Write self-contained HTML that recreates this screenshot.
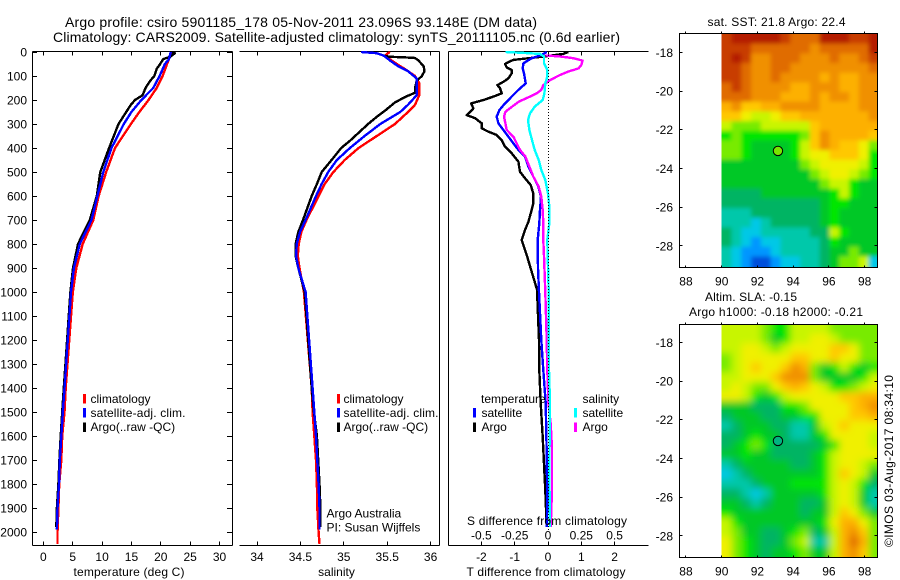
<!DOCTYPE html>
<html>
<head>
<meta charset="utf-8">
<title>Argo profile</title>
<style>
html,body{margin:0;padding:0;background:#fff;width:900px;height:580px;overflow:hidden}
svg{display:block}
text{font-family:"Liberation Sans",sans-serif;font-size:12px;fill:#000}
.mark{fill:none;stroke-linejoin:round;shape-rendering:crispEdges}
.ax{stroke:#000;stroke-width:1;fill:none;shape-rendering:crispEdges}
</style>
</head>
<body>
<svg id="fig" xmlns="http://www.w3.org/2000/svg" width="900" height="580" viewBox="0 0 900 580">
  <defs>
    <clipPath id="clip-sst"><rect x="721.5" y="34" width="156" height="233"/></clipPath>
    <clipPath id="clip-sla"><rect x="721.5" y="325" width="156" height="232"/></clipPath>
    <filter id="soft-sst" filterUnits="userSpaceOnUse" x="690" y="0" width="210" height="300"><feGaussianBlur stdDeviation="2.2"/></filter>
    <filter id="soft-sla" filterUnits="userSpaceOnUse" x="690" y="300" width="210" height="280"><feGaussianBlur stdDeviation="3.6"/></filter>
  </defs>

  <text x="65" y="27" style="font-size:14px" textLength="472" lengthAdjust="spacing">Argo profile: csiro 5901185_178 05-Nov-2011 23.096S 93.148E (DM data)</text>
  <text x="53" y="42" style="font-size:14px" textLength="567" lengthAdjust="spacing">Climatology: CARS2009. Satellite-adjusted climatology: synTS_20111105.nc (0.6d earlier)</text>

  <g id="layer-axes"></g>
  <g id="layer-maps"></g>
  <g id="layer-marks"></g>
  <g id="layer-labels"></g>

  <text x="129" y="576" text-anchor="middle" textLength="111" lengthAdjust="spacing">temperature (deg C)</text>
  <text x="336.5" y="576" text-anchor="middle">salinity</text>
  <text x="546" y="576" text-anchor="middle" textLength="159" lengthAdjust="spacing">T difference from climatology</text>
  <text x="547" y="525" text-anchor="middle" textLength="160" lengthAdjust="spacing">S difference from climatology</text>

  <g>
    <rect x="83" y="394" width="3" height="9.5" fill="#ff0000"/>
    <rect x="83" y="408" width="3" height="9.5" fill="#0000ff"/>
    <rect x="83" y="422.5" width="3" height="9.5" fill="#000000"/>
    <text x="90.5" y="403">climatology</text>
    <text x="90.5" y="417" textLength="95" lengthAdjust="spacing">satellite-adj. clim.</text>
    <text x="90.5" y="431">Argo(..raw -QC)</text>
  </g>
  <g>
    <rect x="337" y="394" width="3" height="9.5" fill="#ff0000"/>
    <rect x="337" y="408" width="3" height="9.5" fill="#0000ff"/>
    <rect x="337" y="422.5" width="3" height="9.5" fill="#000000"/>
    <text x="343.5" y="403">climatology</text>
    <text x="343.5" y="417" textLength="95" lengthAdjust="spacing">satellite-adj. clim.</text>
    <text x="343.5" y="431">Argo(..raw -QC)</text>
  </g>
  <text x="326.5" y="517.5">Argo Australia</text>
  <text x="326.5" y="531.5">PI: Susan Wijffels</text>

  <g>
    <rect x="473" y="408" width="3" height="9.5" fill="#0000ff"/>
    <rect x="473" y="422.5" width="3" height="9.5" fill="#000000"/>
    <rect x="574" y="408" width="3" height="9.5" fill="#00ffff"/>
    <rect x="574" y="422.5" width="3" height="9.5" fill="#ff00ff"/>
    <text x="481" y="403">temperature</text>
    <text x="481.5" y="417">satellite</text>
    <text x="481.5" y="431">Argo</text>
    <text x="582.5" y="403">salinity</text>
    <text x="582.5" y="417">satellite</text>
    <text x="582.5" y="431">Argo</text>
  </g>

  <text x="776.5" y="26" text-anchor="middle" textLength="138" lengthAdjust="spacing">sat. SST: 21.8 Argo: 22.4</text>
  <text x="751" y="301" text-anchor="middle" textLength="92" lengthAdjust="spacing">Altim. SLA: -0.15</text>
  <text x="776" y="316" text-anchor="middle" textLength="174" lengthAdjust="spacing">Argo h1000: -0.18 h2000: -0.21</text>
  <text transform="translate(893,547) rotate(-90)" textLength="172" lengthAdjust="spacing">©IMOS 03-Aug-2017 08:34:10</text>
</svg>

<script>
// ---- axis tick values ----
const depthTicks = [0,100,200,300,400,500,600,700,800,900,1000,1100,1200,1300,1400,1500,1600,1700,1800,1900,2000];
const tempTicks = [0,5,10,15,20,25,30];
const salTicks = [34,34.5,35,35.5,36];
const salTickLabels = ['34','34.5','35','35.5','36'];
const tDiffTicks = [-2,-1,0,1,2];
const sDiffTicks = [-0.5,-0.25,0,0.25,0.5];
const sDiffTickLabels = ['-0.5','-0.25','0','0.25','0.5'];
const lonTicks = [88,90,92,94,96,98];
const latTicks = [-18,-20,-22,-24,-26,-28];

// ---- temperature profiles ----
const tempClimP = [0,35,100,150,200,255,300,400,500,600,700,800,900,1000,1400,1500,1600,1700,1800,1900,2000,2050];
const tempClimV = [21.9,21.3,20.3,19.3,17.9,16.2,14.9,12.2,10.7,9.4,8.5,6.7,5.6,5.0,3.8,3.6,3.2,3.05,2.7,2.55,2.4,2.4];
const tempSatP = [0,30,50,100,150,200,250,300,400,500,600,700,800,900,1000,1400,1500,1600,1700,1800,1900,1990];
const tempSatV = [21.7,21.4,20.7,19.8,18.7,16.7,15,13.7,11.6,10.2,9.2,8.2,6.2,5.2,4.7,3.6,3.3,3.05,2.8,2.65,2.4,2.3];
const tempArgoP = [0,5,20,30,50,70,100,120,150,180,200,220,250,300,400,500,600,700,800,900,1000,1400,1500,1600,1700,1800,1900,1980];
const tempArgoV = [21.7,22.4,21.6,20.4,19.9,19.3,18.9,18.2,17.4,16.9,15.6,14.9,14.1,12.8,11.2,9.7,9.1,7.9,5.9,5.05,4.6,3.48,3.2,2.95,2.72,2.55,2.3,2.2];

// ---- salinity profiles ----
const salClimP = [0,10,25,50,70,100,130,180,220,250,300,350,400,450,500,550,600,700,750,800,850,900,1000,1400,1500,1600,1700,1800,1900,2000,2050];
const salClimV = [35.53,35.49,35.51,35.61,35.7,35.82,35.87,35.87,35.82,35.74,35.59,35.38,35.17,35.01,34.88,34.78,34.71,34.57,34.51,34.48,34.47,34.49,34.54,34.63,34.64,34.66,34.68,34.69,34.695,34.71,34.72];
const salSatP = [0,5,15,40,60,80,110,140,180,220,250,300,350,400,450,500,550,600,700,750,800,850,900,1000,1400,1500,1600,1700,1800,1900,1990];
const salSatV = [35.2,35.38,35.46,35.55,35.63,35.74,35.84,35.84,35.84,35.74,35.65,35.42,35.24,35.07,34.92,34.82,34.745,34.68,34.56,34.495,34.457,34.45,34.476,34.56,34.64,34.66,34.68,34.695,34.71,34.72,34.72];
const salArgoP = [15,20,22,25,35,60,80,100,120,150,170,185,210,240,270,300,330,370,400,450,500,550,600,700,750,800,850,900,1000,1400,1500,1600,1700,1800,1900,1980];
const salArgoV = [35.46,35.53,35.69,35.82,35.86,35.92,35.93,35.9,35.84,35.82,35.82,35.72,35.59,35.49,35.38,35.28,35.19,35.07,34.97,34.86,34.745,34.69,34.63,34.53,34.476,34.445,34.445,34.476,34.55,34.63,34.655,34.69,34.705,34.72,34.73,34.73];

// ---- difference profiles ----
const dTArgoP = [0,8,19,33,42,50,64,75,89,110,124,138,151,172,186,200,214,235,249,263,276,297,318,332,346,367,394,422,457,499,526,554,589,631,658,707,742,783,850,990,1200,1325,1463,1604,1742,1825,1980];
const dTArgoV = [0.61,0.46,-0.14,-1.04,-1.19,-1.29,-1.24,-1.09,-1.09,-1.19,-1.34,-1.52,-1.44,-1.39,-1.64,-1.94,-2.31,-2.24,-2.34,-2.44,-2.19,-1.99,-1.99,-1.79,-1.54,-1.39,-1.29,-1.09,-0.89,-0.84,-0.69,-0.52,-0.44,-0.44,-0.49,-0.59,-0.69,-0.79,-0.63,-0.33,-0.27,-0.26,-0.22,-0.16,-0.11,-0.08,-0.04];
const dTSatP = [0,12,26,47,68,89,131,158,186,214,242,269,297,325,353,381,408,436,478,519,561,603,658,714,783,900,1000,1200,1325,1463,1673,1880,1980];
const dTSatV = [-0.04,-0.19,-0.49,-0.74,-0.76,-0.72,-0.67,-0.89,-1.09,-1.29,-1.46,-1.54,-1.49,-1.34,-1.19,-1.04,-0.89,-0.69,-0.59,-0.44,-0.29,-0.21,-0.24,-0.26,-0.31,-0.3,-0.27,-0.2,-0.14,-0.07,-0.04,-0.02,-0.04];
const dSArgoP = [14,19,26,36,54,68,82,96,117,138,158,172,186,207,228,249,269,297,325,353,381,408,436,478,519,561,603,658,714,783,850,1000,1200,1325,1463,1550,1650,1825,1980];
const dSArgoV = [-0.02,0.1,0.19,0.26,0.25,0.23,0.15,0.09,0.015,-0.035,-0.05,-0.085,-0.135,-0.22,-0.27,-0.32,-0.33,-0.32,-0.31,-0.26,-0.235,-0.21,-0.17,-0.14,-0.11,-0.07,-0.05,-0.04,-0.035,-0.035,-0.03,-0.02,-0.01,-0.005,0.003,0.02,0.03,0.03,0.02];
const dSSatP = [0,3,8,19,47,75,103,131,172,200,228,256,283,325,367,408,450,492,533,589,644,714,783,1000,1325,1463,1742,1980];
const dSSatV = [-0.32,-0.21,-0.06,-0.03,-0.03,-0.005,-0.005,-0.02,-0.027,-0.04,-0.1,-0.135,-0.15,-0.14,-0.12,-0.1,-0.07,-0.05,-0.02,0,0.01,0.01,-0.005,0.005,0.0075,0.015,0.01,0.015];

// ---- maps: colour level per cell, north to south, 90E eastward ----
const mapCellLon = 0.548;
const mapCellLat = 0.5;
const mapNorthLat = -17.05;
const mapWestLon = 90;
const sstLevels = [
[14,15,15,15,15,15,14,13,13,13,15,15,15,14,14,15],
[14,14,14,13,13,13,13,13,13,12,13,13,13,13,13,15],
[14,15,14,12,12,13,13,13,12,12,12,13,12,12,13,14],
[14,14,13,12,12,13,13,12,12,12,12,12,12,12,12,13],
[14,14,13,12,12,13,12,12,12,12,11,12,11,11,12,12],
[13,14,13,12,12,12,12,11,11,12,12,12,11,11,12,12],
[13,13,13,12,12,12,11,11,11,12,11,12,12,11,12,12],
[11,12,10,10,11,11,12,12,12,12,11,11,11,11,12,12],
[10,10,9,8,8,9,10,10,11,11,11,11,11,11,11,12],
[8,7,7,7,8,8,8,8,8,10,11,11,11,11,11,11],
[6,7,6,6,6,6,6,6,7,10,12,11,11,11,11,10],
[7,7,6,5,5,5,5,6,8,10,12,11,10,10,9,7],
[7,7,6,5,5,5,5,6,8,9,9,10,10,10,9,6],
[5,5,5,5,5,5,5,5,7,8,9,9,9,9,8,6],
[5,5,5,5,5,5,5,5,5,7,8,9,9,8,7,6],
[5,5,5,5,5,5,5,5,5,5,7,8,8,6,5,5],
[4,4,4,4,5,5,5,5,5,5,5,6,8,6,5,5],
[4,4,4,4,4,4,4,4,4,4,5,6,6,5,5,5],
[3,3,3,4,4,4,4,4,4,4,5,6,5,5,5,5],
[3,3,3,2,3,4,4,4,4,4,5,6,5,5,5,5],
[4,3,2,2,3,3,3,3,3,4,4,8,6,5,5,5],
[4,3,2,1,2,2,3,3,3,3,4,6,5,5,5,5],
[3,2,1,1,1,2,3,3,3,3,4,5,5,7,5,5],
[3,2,1,0,0,1,2,2,3,3,4,5,7,7,8,2]
];
const slaLevels = [
[8,8,8,8,7,6,6,8,8,8,8,7,7,7,7,7],
[8,8,8,8,7,5,6,8,8,9,9,8,7,7,7,7],
[8,8,9,9,8,7,8,9,9,9,9,10,10,9,7,7],
[7,8,9,9,9,9,9,10,10,9,9,10,9,9,7,7],
[7,8,9,10,9,9,10,12,11,7,5,6,8,6,5,6],
[8,8,9,9,9,10,12,12,12,7,5,5,5,5,6,8],
[8,9,8,7,7,9,10,11,10,9,8,6,6,7,8,9],
[9,9,8,6,5,6,8,9,9,9,9,9,10,10,11,11],
[5,5,5,4,4,4,6,6,7,9,9,9,9,10,11,12],
[4,5,5,5,4,4,5,5,6,6,9,9,9,10,10,11],
[3,4,5,5,5,4,4,3,3,5,8,9,10,9,9,9],
[4,4,5,6,5,5,4,3,3,5,6,9,9,9,9,8],
[4,5,6,7,6,4,4,4,4,4,5,6,9,9,9,8],
[5,5,6,5,5,4,4,4,4,5,6,8,9,9,9,9],
[3,4,5,5,5,5,5,4,4,5,6,8,9,9,8,7],
[2,3,4,5,5,5,5,5,5,5,6,8,10,9,8,5],
[3,3,3,4,5,5,5,6,6,6,6,8,9,8,6,4],
[4,4,3,2,3,5,5,5,5,5,6,8,9,8,5,3],
[5,5,4,3,4,5,5,5,4,4,5,8,9,8,5,3],
[6,5,5,5,5,5,5,5,4,5,5,8,10,9,7,5],
[8,6,5,5,5,5,5,5,5,5,6,9,11,11,9,7],
[8,7,5,5,4,4,5,6,7,4,5,8,11,12,10,7],
[9,7,6,5,4,4,5,7,8,3,3,8,11,13,11,7],
[9,7,6,5,4,5,5,6,7,5,5,8,11,12,10,7]
];
const profileLon = 93.148;
const profileLat = -23.096;

const levelColors = ['#0050dc','#0096ff','#00c8e6','#00c8aa','#00b464','#00c828','#00e600','#78eb00','#c8f500','#f0f000','#ffc800','#fdb000','#f09000','#e06c00','#c83c00','#b41e00'];

const SVGNS = 'http://www.w3.org/2000/svg';
const axesLayer = document.getElementById('layer-axes');
const mapsLayer = document.getElementById('layer-maps');
const marksLayer = document.getElementById('layer-marks');
const labelsLayer = document.getElementById('layer-labels');

// ---- axis functions ----
function depthY(p){ return 52 + p * 0.24; }
function tempX(t){ return 43.4 + t * 5.87; }
function salX(s){ return 257 + (s - 34) * 86.8; }
function tDiffX(d){ return 548 + d * 33.3; }
function sDiffX(d){ return 548 + d * 133.2; }
function lonX(lon){ return 721.7 + (lon - 90) * 17.87; }
function sstLatY(lat){ return 52.3 + (-18 - lat) * 19.35; }
function slaLatY(lat){ return 342.3 + (-18 - lat) * 19.35; }

function axisLine(name, x1, y1, x2, y2){
  const el = document.createElementNS(SVGNS, 'line');
  
  
  el.setAttribute('class', 'ax');
  el.setAttribute('x1', x1); el.setAttribute('y1', y1);
  el.setAttribute('x2', x2); el.setAttribute('y2', y2);
  axesLayer.appendChild(el);
}
function label(name, str, x, y, anchor){
  const el = document.createElementNS(SVGNS, 'text');
  
  
  el.setAttribute('x', x); el.setAttribute('y', y);
  el.setAttribute('text-anchor', anchor);
  el.textContent = str;
  labelsLayer.appendChild(el);
}
function snap(v){ return Math.round(v - 0.5) + 0.5; }

function profileLine(name, color, xFn, depths, values){
  const el = document.createElementNS(SVGNS, 'polyline');
  
  
  el.setAttribute('class', 'mark');
  el.setAttribute('stroke', color);
  el.setAttribute('stroke-width', '2.4');
  el.setAttribute('points', depths.map(function(p, i){ return xFn(values[i]).toFixed(1) + ',' + depthY(p).toFixed(1); }).join(' '));
  marksLayer.appendChild(el);
}

// ---- profile panel frames ----
const top0 = 51.5, bot0 = 545.5;
// temperature panel
axisLine('temperature-panel-top', 32.5, top0, 232.5, top0);
axisLine('temperature-panel-bottom', 32.5, bot0, 232.5, bot0);
axisLine('temperature-panel-left', 32.5, top0, 32.5, bot0);
axisLine('temperature-panel-right', 232.5, top0, 232.5, bot0);
// salinity panel (no left spine in the reference)
axisLine('salinity-panel-top', 239.5, top0, 439.5, top0);
axisLine('salinity-panel-bottom', 239.5, bot0, 439.5, bot0);
axisLine('salinity-panel-right', 439.5, top0, 439.5, bot0);
// difference panel
axisLine('difference-panel-top', 448.5, top0, 648.5, top0);
axisLine('difference-panel-bottom', 448.5, bot0, 648.5, bot0);
axisLine('difference-panel-left', 448.5, top0, 448.5, bot0);

depthTicks.forEach(function(p){
  const y = snap(depthY(p));
  axisLine('depth-tick-left', 32.5, y, 37, y);
  axisLine('depth-tick-right', 227, y, 232.5, y);
  label('depth-tick-label', String(p), 27, depthY(p) + 4.5, 'end');
});
tempTicks.forEach(function(t){
  const x = snap(tempX(t));
  axisLine('temperature-tick-top', x, top0, x, top0 + 4);
  axisLine('temperature-tick-bottom', x, bot0, x, bot0 - 4);
  label('temperature-tick-label', String(t), tempX(t), 561, 'middle');
});
salTicks.forEach(function(s, i){
  const x = snap(salX(s));
  axisLine('salinity-tick-top', x, top0, x, top0 + 4);
  axisLine('salinity-tick-bottom', x, bot0, x, bot0 - 4);
  label('salinity-tick-label', salTickLabels[i], salX(s), 561, 'middle');
});
tDiffTicks.forEach(function(d){
  const x = snap(tDiffX(d));
  axisLine('t-difference-tick-top', x, top0, x, top0 + 4);
  axisLine('t-difference-tick-bottom', x, bot0, x, bot0 - 4);
  label('t-difference-tick-label', String(d), tDiffX(d), 561, 'middle');
});
sDiffTicks.forEach(function(d, i){
  label('s-difference-tick-label', sDiffTickLabels[i], sDiffX(d), 539.5, 'middle');
});

// ---- profile series ----
profileLine('temperature-climatology-line', '#ff0000', tempX, tempClimP, tempClimV);
profileLine('temperature-argo-line', '#000000', tempX, tempArgoP, tempArgoV);
profileLine('temperature-satellite-line', '#0000ff', tempX, tempSatP, tempSatV);

profileLine('salinity-climatology-line', '#ff0000', salX, salClimP, salClimV);
profileLine('salinity-argo-line', '#000000', salX, salArgoP, salArgoV);
profileLine('salinity-satellite-line', '#0000ff', salX, salSatP, salSatV);

profileLine('t-difference-argo-line', '#000000', tDiffX, dTArgoP, dTArgoV);
profileLine('t-difference-satellite-line', '#0000ff', tDiffX, dTSatP, dTSatV);
profileLine('s-difference-argo-line', '#ff00ff', sDiffX, dSArgoP, dSArgoV);
profileLine('s-difference-satellite-line', '#00ffff', sDiffX, dSSatP, dSSatV);

const zero = document.createElementNS(SVGNS, 'line');


zero.setAttribute('x1', '548.5'); zero.setAttribute('x2', '548.5');
zero.setAttribute('y1', depthY(0)); zero.setAttribute('y2', depthY(2000));
zero.setAttribute('stroke', '#000'); zero.setAttribute('stroke-width', '1');
zero.setAttribute('stroke-dasharray', '1 2');
zero.setAttribute('shape-rendering', 'crispEdges');
marksLayer.appendChild(zero);

// ---- maps ----
function drawMap(prefix, levels, latY, topPx, botPx, clipId, filterId, dotFill){
  const outer = document.createElementNS(SVGNS, 'g');
  
  
  outer.setAttribute('clip-path', 'url(#' + clipId + ')');
  const inner = document.createElementNS(SVGNS, 'g');
  
  
  inner.setAttribute('filter', 'url(#' + filterId + ')');
  const nRows = levels.length;
  levels.forEach(function(row, r){
    const nCols = row.length;
    row.forEach(function(level, c){
      let x0 = lonX(mapWestLon + c * mapCellLon);
      let x1 = lonX(mapWestLon + (c + 1) * mapCellLon);
      let y0 = latY(mapNorthLat - r * mapCellLat);
      let y1 = latY(mapNorthLat - (r + 1) * mapCellLat);
      // edge cells bleed past the clip so the softening does not fade at the frame
      if (c === 0) x0 -= 14;
      if (c === nCols - 1) x1 += 14;
      if (r === 0) y0 -= 14;
      if (r === nRows - 1) y1 += 14;
      const cell = document.createElementNS(SVGNS, 'rect');
      
      
      cell.setAttribute('x', x0.toFixed(2));
      cell.setAttribute('y', y0.toFixed(2));
      cell.setAttribute('width', (x1 - x0 + 0.6).toFixed(2));
      cell.setAttribute('height', (y1 - y0 + 0.6).toFixed(2));
      cell.setAttribute('fill', levelColors[Math.max(0, Math.min(levelColors.length - 1, Math.round(level)))]);
      inner.appendChild(cell);
    });
  });
  outer.appendChild(inner);
  mapsLayer.appendChild(outer);

  const frame = document.createElementNS(SVGNS, 'rect');
  
  
  frame.setAttribute('class', 'ax');
  frame.setAttribute('x', '679.5');
  frame.setAttribute('y', topPx);
  frame.setAttribute('width', '198');
  frame.setAttribute('height', botPx - topPx);
  mapsLayer.appendChild(frame);

  lonTicks.forEach(function(lon){
    const x = snap(lonX(lon));
    const tickBottom = document.createElementNS(SVGNS, 'line');
    
    
    tickBottom.setAttribute('class', 'ax');
    tickBottom.setAttribute('x1', x); tickBottom.setAttribute('x2', x);
    tickBottom.setAttribute('y1', botPx); tickBottom.setAttribute('y2', botPx + 1 - 3);
    mapsLayer.appendChild(tickBottom);
    const tickTop = document.createElementNS(SVGNS, 'line');
    
    
    tickTop.setAttribute('class', 'ax');
    tickTop.setAttribute('x1', x); tickTop.setAttribute('x2', x);
    tickTop.setAttribute('y1', topPx); tickTop.setAttribute('y2', topPx - 2);
    mapsLayer.appendChild(tickTop);
    label(prefix + '-lon-label', String(lon), lonX(lon), botPx + 18, 'middle');
  });
  latTicks.forEach(function(lat){
    const y = snap(latY(lat));
    const tickLeft = document.createElementNS(SVGNS, 'line');
    
    
    tickLeft.setAttribute('class', 'ax');
    tickLeft.setAttribute('x1', '679.5'); tickLeft.setAttribute('x2', '682.5');
    tickLeft.setAttribute('y1', y); tickLeft.setAttribute('y2', y);
    mapsLayer.appendChild(tickLeft);
    const tickRight = document.createElementNS(SVGNS, 'line');
    
    
    tickRight.setAttribute('class', 'ax');
    tickRight.setAttribute('x1', '874.5'); tickRight.setAttribute('x2', '877.5');
    tickRight.setAttribute('y1', y); tickRight.setAttribute('y2', y);
    mapsLayer.appendChild(tickRight);
    label(prefix + '-lat-label', String(lat), 673, latY(lat) + 4.5, 'end');
  });

  const dot = document.createElementNS(SVGNS, 'circle');
  
  
  dot.setAttribute('cx', lonX(profileLon));
  dot.setAttribute('cy', latY(profileLat));
  dot.setAttribute('r', '4.7');
  dot.setAttribute('fill', dotFill);
  dot.setAttribute('stroke', '#000');
  dot.setAttribute('stroke-width', '1');
  mapsLayer.appendChild(dot);
}
drawMap('sst', sstLevels, sstLatY, 33.5, 267.5, 'clip-sst', 'soft-sst', '#78e600');
drawMap('sla', slaLevels, slaLatY, 324.5, 557.5, 'clip-sla', 'soft-sla', '#00b480');
</script>
</body>
</html>
